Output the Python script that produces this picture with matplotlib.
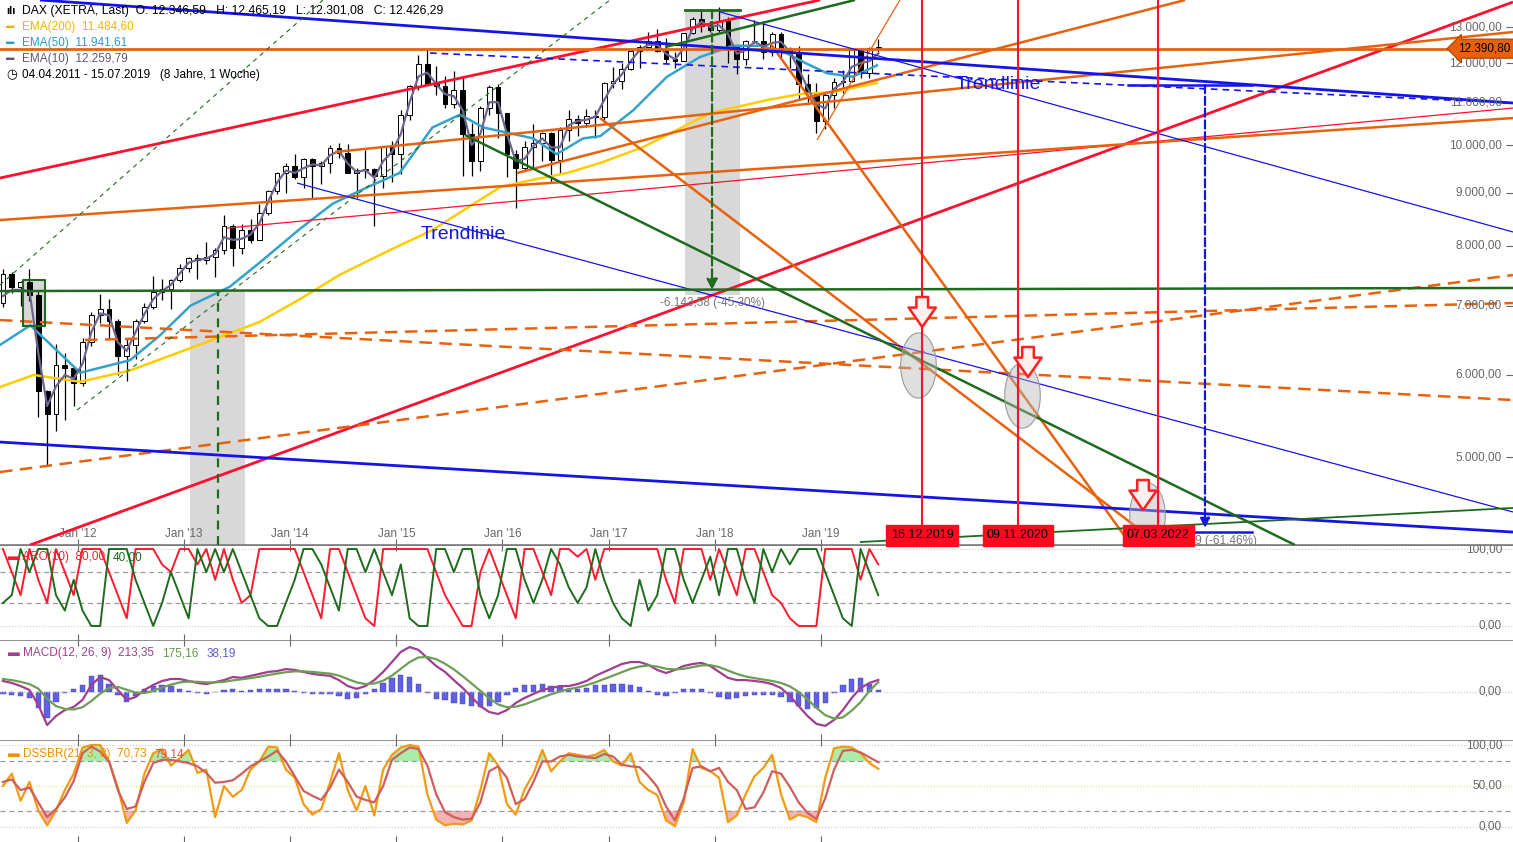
import numpy as np
import matplotlib.pyplot as plt
from matplotlib.path import Path
from matplotlib.ticker import NullLocator

plt.rcParams['font.family'] = ['Liberation Sans', 'DejaVu Sans']

# ---- monthly DAX candles (Apr 2011 - Jul 2019) ----
first_open = 7041
closes = [7514, 7294, 7376, 7159, 5785, 5502, 6141, 6089, 5898,
          6458, 6856, 6947, 6761, 6264, 6416, 6772, 6971, 7216, 7260, 7405, 7612,
          7776, 7742, 7795, 7914, 8349, 7959, 8276, 8104, 8594, 9033, 9406, 9552,
          9306, 9692, 9556, 9603, 9943, 9833, 9407, 9470, 9474, 9327, 9963, 9806,
          10694, 11402, 11966, 11454, 11414, 10945, 11309, 10259, 9660, 10850, 11382, 10743,
          9798, 9495, 9966, 10039, 10263, 9680, 10337, 10593, 10511, 10665, 10640, 11481,
          11535, 11834, 12313, 12438, 12615, 12325, 12118, 12056, 12829, 13230, 13024, 12918,
          13189, 12436, 12097, 12612, 12605, 12306, 12806, 12364, 12247, 11448, 11257, 10559,
          11173, 11516, 11526, 12344, 11727, 12399, 12426]
highs = [7600, 7550, 7400, 7600, 7250, 5800, 6430, 6300, 6100,
         6520, 6900, 7190, 7100, 6800, 6500, 6800, 7040, 7480, 7430, 7420, 7680,
         7800, 7850, 8060, 7950, 8560, 8400, 8400, 8480, 8770, 9060, 9410, 9600,
         9800, 9720, 9720, 9650, 10000, 10050, 10030, 9500, 9890, 9500, 9990, 10090,
         10800, 11420, 12220, 12390, 11920, 11650, 11800, 11670, 10500, 10900, 11430, 11450,
         10750, 9900, 10100, 10480, 10300, 10300, 10400, 10800, 10700, 10830, 10800, 11500,
         11890, 12000, 12320, 12480, 12850, 12950, 12700, 12300, 12830, 13300, 13530, 13190,
         13600, 13280, 12500, 12630, 13200, 13170, 12870, 12860, 12430, 12460, 11700, 11480,
         11260, 11600, 11820, 12400, 12420, 12440, 12660]
lows = [6980, 7200, 6990, 7070, 5460, 4900, 5300, 5430, 5600,
        5860, 6400, 6740, 6500, 6000, 5915, 6220, 6730, 6950, 7080, 6950, 7380,
        7540, 7420, 7680, 7460, 7850, 7650, 7850, 8050, 8100, 8570, 8980, 9000,
        9280, 9100, 8900, 9170, 9400, 9720, 9400, 8900, 9300, 8350, 9100, 9220,
        9380, 10580, 11300, 11430, 11180, 10860, 10850, 9330, 9340, 9450, 10700, 10150,
        9310, 8700, 9450, 9480, 9650, 9210, 9380, 10100, 10200, 10400, 10170, 10510,
        11360, 11330, 11820, 11860, 12400, 12300, 12010, 11870, 12050, 12800, 12850, 12860,
        12870, 12000, 11720, 11950, 12550, 12100, 12200, 12110, 11870, 11050, 11000, 10280,
        10370, 10860, 11230, 11500, 11620, 11620, 12300]
ema10 = [7150, 7250, 7250, 7230, 6300, 5600, 5850, 6000, 5950,
         6150, 6600, 6880, 6850, 6450, 6330, 6600, 6870, 7100, 7230, 7330, 7520,
         7700, 7750, 7770, 7850, 8150, 8100, 8120, 8200, 8400, 8820, 9200, 9450,
         9400, 9500, 9580, 9560, 9780, 9870, 9600, 9420, 9460, 9300, 9650, 9850,
         10250, 11000, 11650, 11750, 11450, 11200, 11150, 10800, 10000, 10250, 11000, 11000,
         10250, 9650, 9700, 9980, 10150, 9950, 9950, 10450, 10550, 10580, 10650, 11050,
         11450, 11700, 12050, 12350, 12500, 12500, 12250, 12100, 12400, 12950, 13150, 13000,
         13050, 12800, 12250, 12350, 12580, 12450, 12550, 12580, 12300, 11850, 11350, 10950,
         10850, 11330, 11500, 11900, 12000, 12050, 12260]

# slower averages read at irregular dates
ema50_t = [2011.26, 2011.55, 2012.02, 2012.49, 2012.77, 2013.06, 2013.43, 2013.71, 2014.09, 2014.40,
           2014.72, 2015.03, 2015.34, 2015.60, 2015.82, 2016.29, 2016.51, 2016.76, 2016.92, 2017.23,
           2017.55, 2017.86, 2018.17, 2018.43, 2018.68, 2018.87, 2019.06, 2019.30, 2019.53]
ema50_v = [6410, 6700, 6030, 6200, 6550, 7000, 7300, 7700, 8300, 8780,
           9100, 9400, 10400, 10700, 10400, 10150, 9800, 10150, 10200, 10800,
           11640, 12160, 12470, 12470, 12260, 11980, 11730, 11640, 11940]
ema200_t = [2011.26, 2011.58, 2012.02, 2012.49, 2013.15, 2013.71, 2014.09, 2014.47, 2014.94, 2015.34,
            2015.67, 2015.98, 2016.29, 2016.61, 2016.92, 2017.32, 2017.96, 2018.49, 2018.80, 2019.12, 2019.53]
ema200_v = [5840, 6000, 5910, 6060, 6420, 6750, 7100, 7500, 7920, 8280,
            8700, 9110, 9260, 9400, 9610, 9950, 10740, 11050, 11200, 11250, 11480]

# ---- indicators, monthly ----
aroon_up = [100, 70, 40, 100, 60, 30, 100, 70, 40,
            100, 100, 100, 70, 40, 10, 100, 100, 100, 80, 70, 100,
            100, 80, 100, 60, 100, 60, 30, 40, 100, 100, 100, 100,
            100, 70, 40, 10, 100, 100, 70, 40, 10, 0, 100, 100,
            100, 100, 100, 100, 70, 40, 20, 0, 0, 70, 100, 70,
            40, 10, 100, 100, 70, 40, 100, 100, 90, 100, 60, 100,
            100, 100, 100, 100, 100, 100, 60, 30, 100, 100, 100, 60,
            100, 70, 40, 100, 100, 70, 40, 30, 10, 0, 0, 0,
            100, 100, 100, 100, 60, 100, 80]
aroon_down = [30, 40, 100, 70, 100, 100, 40, 20, 60,
              20, 0, 0, 100, 100, 100, 60, 30, 0, 30, 70, 40,
              10, 100, 70, 100, 70, 100, 70, 40, 10, 0, 0, 30,
              60, 100, 100, 80, 50, 20, 100, 100, 70, 100, 70, 40,
              80, 10, 0, 0, 100, 100, 70, 100, 100, 40, 10, 40,
              100, 100, 60, 30, 60, 100, 80, 50, 30, 50, 100, 60,
              30, 10, 0, 60, 20, 40, 100, 100, 60, 30, 60, 90,
              40, 100, 100, 60, 30, 100, 70, 100, 80, 100, 100, 100,
              70, 40, 10, 0, 100, 70, 40]
macd = [195, 160, 105, 35, -230, -585, -425, -320, -265,
        -140, 125, 265, 210, 35, -140, -90, 35, 125, 195, 230, 230,
        195, 160, 140, 175, 210, 265, 250, 285, 320, 355, 370, 405,
        390, 355, 320, 300, 285, 210, 105, 55, 105, 210, 355, 530,
        710, 795, 745, 600, 460, 355, 210, 70, -90, -250, -355, -390,
        -320, -195, -105, -35, 35, 70, 105, 105, 140, 195, 285, 355,
        425, 495, 530, 530, 480, 390, 335, 390, 460, 495, 515, 460,
        355, 250, 210, 210, 195, 175, 140, 70, -70, -250, -425, -565,
        -600, -495, -320, -105, 70, 160, 213]
macd_signal = [230, 210, 180, 140, 60, -120, -250, -300, -310,
               -270, -160, -30, 70, 90, 40, -10, -20, 20, 80, 130, 170,
               185, 180, 170, 170, 180, 205, 225, 245, 270, 300, 325, 350,
               365, 365, 355, 340, 325, 290, 230, 170, 140, 150, 200, 290,
               410, 530, 610, 620, 580, 500, 400, 280, 150, 20, -110, -220,
               -270, -260, -220, -160, -100, -40, 10, 50, 80, 120, 170, 230,
               290, 350, 410, 450, 470, 450, 410, 400, 410, 440, 470, 475,
               440, 380, 320, 275, 245, 220, 195, 160, 100, 0, -130, -280,
               -410, -470, -450, -330, -180, 20, 175]
dss = [50, 65, 32, 55, 20, 2, 20, 45, 65,
       97, 100, 100, 80, 48, 5, 20, 65, 90, 95, 75, 84,
       94, 66, 70, 12, 50, 37, 45, 70, 80, 98, 97, 70,
       60, 28, 15, 22, 54, 90, 45, 20, 50, 14, 70, 88,
       97, 100, 98, 40, 9, 2, 4, 3, 8, 45, 90, 75,
       28, 15, 46, 65, 94, 68, 80, 90, 88, 86, 88, 94,
       80, 75, 90, 55, 45, 39, 8, 1, 30, 95, 72, 68,
       60, 6, 14, 40, 62, 72, 88, 40, 9, 15, 12, 6,
       60, 96, 98, 97, 90, 78, 71]
dss_signal = [55, 58, 45, 48, 30, 12, 22, 36, 56,
              90, 98, 92, 80, 45, 22, 25, 55, 78, 82, 82, 80,
              78, 74, 66, 54, 55, 57, 65, 74, 80, 86, 93, 80,
              62, 44, 38, 33, 48, 70, 55, 37, 33, 30, 50, 82,
              90, 97, 95, 75, 40, 18, 12, 9, 10, 30, 68, 74,
              60, 28, 34, 55, 80, 80, 86, 88, 86, 85, 84, 89,
              86, 76, 74, 73, 62, 49, 25, 8, 35, 72, 74, 68,
              72, 55, 45, 22, 24, 42, 68, 65, 49, 30, 17, 10,
              35, 70, 93, 94, 91, 85, 79]

# ---- drawn trendlines: (start year, start value, end year, end value) ----
red_upper = (2011.264, 9295, 2018.993, 13805)
red_long = (2011.547, 4112, 2025.524, 13743)
red_thin = (2013.404, 8317, 2025.524, 10858)
orange_base = (2011.264, 8466, 2025.524, 10620)
orange_mid = (2014.421, 9848, 2025.524, 12857)
orange_steep = (2016.137, 9398, 2022.433, 13805)
orange_fall1 = (2016.919, 10620, 2022.197, 4112)
orange_fall2 = (2018.521, 12547, 2021.924, 4112)
orange_thin = (2018.964, 10113, 2019.746, 13805)
orange_dash1 = (2011.264, 6779, 2025.524, 5675)
orange_dash2 = (2011.264, 4836, 2025.524, 7492)
orange_dash3 = (2012.065, 6485, 2025.524, 7040)
blue_upper = (2011.641, 13805, 2025.524, 10980)
blue_lower = (2011.264, 5169, 2025.524, 4232)
blue_trend = (2014.063, 9192, 2025.524, 4425)
blue_top = (2018.05, 13442, 2025.524, 8244)
blue_dash = (2015.317, 12271, 2025.524, 10980)
green_flat = (2011.264, 7230, 2025.524, 7280)
green_fall = (2015.647, 10227, 2023.469, 4112)
green_rise = (2017.532, 12435, 2019.322, 13805)
green_low = (2019.37, 4139, 2025.524, 4465)
green_dash1 = (2011.264, 7328, 2014.308, 13805)
green_dash2 = (2011.99, 5550, 2017.013, 13805)
resistance = 12390.80

# measurement boxes and markers
meas1_t = (2017.72, 2018.238); meas1_v = (7166, 13500); meas1_x = 2017.975; meas1_end = 7246
meas2_t = (2013.055, 2013.573); meas2_v = (4112, 7246); meas2_x = 2013.319
box_t = (2011.481, 2011.688); box_v = (6690, 7409)
meas3_x = 2022.621; meas3_v = (11429, 4270); meas3_t = (2021.9, 2023.06); meas3_low = 4232
signal_dates = [2019.956, 2020.858, 2022.18]
signal_labels = ['16.12.2019', '09.11.2020', '07.03.2022']
arrow_t = [2019.956, 2020.953, 2022.037]
arrow_top = [7135, 6385, 4751]
arrow_tip = [6675, 5972, 4444]
circle_t = [2019.916, 2020.896, 2022.075]
circle_v = [6134, 5738, 4395]
year_ticks = [2012, 2013, 2014, 2015, 2016, 2017, 2018, 2019]
year_labels = ["Jan '12", "Jan '13", "Jan '14", "Jan '15", "Jan '16", "Jan '17", "Jan '18", "Jan '19"]
price_ticks = [5000, 6000, 7000, 8000, 9000, 10000, 11000, 12000, 13000]

RED = '#FF1030'; ORANGE = '#E8620E'; BLUE = '#1414E6'; GREEN = '#1E6B1E'; GRAY = '#666666'


def de(v):
    return f'{v:,.2f}'.replace(',', ' ').replace('.', ',').replace(' ', '.')


def seg(ax, line, **kw):
    ax.plot([line[0], line[2]], [line[1], line[3]], solid_capstyle='butt', **kw)


def legend_row(ax, y, parts):
    # chain coloured legend pieces one after the other
    prev = ax.text(0.005, y, parts[0][0], transform=ax.transAxes, color=parts[0][1],
                   fontsize=8.5, va='center', zorder=10)
    for txt, col in parts[1:]:
        prev = ax.annotate(txt, xy=(1, 0.5), xycoords=prev, xytext=(6, 0), textcoords='offset points',
                           color=col, fontsize=8.5, va='center', zorder=10)


fig = plt.figure(figsize=(15.13, 8.42), dpi=100)
ax = fig.add_axes([0, 297 / 842, 1, 545 / 842])
ax_aro = fig.add_axes([0, 202 / 842, 1, 95 / 842])
ax_macd = fig.add_axes([0, 102 / 842, 1, 100 / 842])
ax_dss = fig.add_axes([0, 0, 1, 102 / 842])
for z, a in zip([4, 3, 2, 1], [ax, ax_aro, ax_macd, ax_dss]):
    a.set_zorder(z)
    a.set_xlim(2011.264, 2025.524)
    for s in a.spines.values():
        s.set_visible(False)

months = 2011 + (np.arange(len(closes)) + 3.5) / 12
closes = np.array(closes); opens = np.r_[first_open, closes[:-1]]

# ---- main panel ----
ax.set_yscale('log')
ax.set_ylim(4112, 13805)
ax.fill_between(meas1_t, meas1_v[0], meas1_v[1], color='#D4D4D4', alpha=0.9, lw=0, zorder=1)
ax.fill_between(meas2_t, meas2_v[0], meas2_v[1], color='#D4D4D4', alpha=0.9, lw=0, zorder=1)
ax.fill_between(box_t, box_v[0], box_v[1], color='#D4D4D4', alpha=0.9, lw=0, zorder=1)
ax.plot([box_t[0], box_t[1], box_t[1], box_t[0], box_t[0]],
        [box_v[0], box_v[0], box_v[1], box_v[1], box_v[0]], color=GREEN, lw=1.5, zorder=6)

ax.vlines(months, lows, highs, color='black', lw=0.9, zorder=3)
up = closes >= opens
ax.bar(months, np.abs(closes - opens), bottom=np.minimum(opens, closes), width=0.045,
       color=np.where(up, 'white', 'black'), edgecolor='black', lw=0.7, zorder=3.1)

ax.plot(ema200_t, ema200_v, color='#FFCC00', lw=1.8, zorder=4)
ax.plot(ema50_t, ema50_v, color='#33A3CC', lw=1.8, zorder=4)
ax.plot(months, ema10, color='#6E6590', lw=1.6, zorder=4)

for ln in [red_upper, red_long]:
    seg(ax, ln, color=RED, lw=2, zorder=5)
seg(ax, red_thin, color=RED, lw=0.9, zorder=5)
for ln in [orange_base, orange_mid, orange_steep, orange_fall1, orange_fall2]:
    seg(ax, ln, color=ORANGE, lw=1.8, zorder=5)
seg(ax, orange_thin, color=ORANGE, lw=0.9, zorder=5)
ax.axhline(resistance, color=ORANGE, lw=2, zorder=5)
for ln in [orange_dash1, orange_dash2, orange_dash3]:
    seg(ax, ln, color=ORANGE, lw=1.8, dashes=(5, 3), zorder=5)
for ln in [blue_upper, blue_lower]:
    seg(ax, ln, color=BLUE, lw=2, zorder=5)
for ln in [blue_trend, blue_top]:
    seg(ax, ln, color=BLUE, lw=0.9, zorder=5)
seg(ax, blue_dash, color=BLUE, lw=1.2, dashes=(4, 3), zorder=5)
for ln in [green_flat, green_fall, green_rise]:
    seg(ax, ln, color=GREEN, lw=1.8, zorder=5)
seg(ax, green_low, color=GREEN, lw=1.3, zorder=5)
for ln in [green_dash1, green_dash2]:
    seg(ax, ln, color=GREEN, lw=0.8, dashes=(4, 4), zorder=5)

# measurements
ax.plot(meas1_t, [meas1_v[1]] * 2, color=GREEN, lw=2, zorder=6)
ax.annotate('', xy=(meas1_x, meas1_end), xytext=(meas1_x, meas1_v[1]), zorder=6,
            arrowprops=dict(arrowstyle='-|>', linestyle='--', color=GREEN, lw=1.6,
                            mutation_scale=16, shrinkA=0, shrinkB=0))
ax.text(meas1_x, 7040, '-6.143,58 (-45,30%)', ha='center', va='center', fontsize=8.5, color='#777777', zorder=6)
ax.plot([meas2_x, meas2_x], meas2_v, color=GREEN, lw=1.6, dashes=(4, 3), zorder=6)
ax.plot(meas3_t, [meas3_v[0]] * 2, color=BLUE, lw=1.8, zorder=6)
ax.plot([2022.498, 2023.06], [meas3_low] * 2, color=BLUE, lw=1.8, zorder=6)
ax.annotate('', xy=(meas3_x, meas3_v[1]), xytext=(meas3_x, meas3_v[0]), zorder=6,
            arrowprops=dict(arrowstyle='-|>', linestyle='--', color=BLUE, lw=1.6,
                            mutation_scale=14, shrinkA=0, shrinkB=0))
ax.text(meas3_x, 4150, '-7.024,39 (-61,46%)', ha='center', va='center', fontsize=8.5,
        color='#777777', zorder=6, clip_on=True)

# signal dates
theta = np.linspace(0, 2 * np.pi, 60)
oval = Path(np.c_[0.545 * np.cos(theta), np.sin(theta)])
ax.plot(circle_t, circle_v, ls='none', marker=oval, ms=47, mfc=(0.72, 0.72, 0.72, 0.45),
        mec='#9A9A9A', mew=0.8, zorder=6)
for t in signal_dates:
    ax.axvline(t, ymin=0.03, color=RED, lw=1.5, zorder=6)
for t, a, b in zip(arrow_t, arrow_top, arrow_tip):
    ax.annotate('', xy=(t, b), xytext=(t, a), zorder=7,
                arrowprops=dict(arrowstyle='simple,head_width=1.4,head_length=1.0,tail_width=0.6',
                                mutation_scale=14, fc='#FFF0F0', ec='#FF2020', lw=1.8,
                                shrinkA=0, shrinkB=0))
for t, lab in zip(signal_dates, signal_labels):
    ax.text(t, 0.018, lab, transform=ax.get_xaxis_transform(), ha='center', va='center',
            fontsize=9, color='black', zorder=8,
            bbox=dict(boxstyle='square,pad=0.35', fc='#FF0A1E', ec='#FF0A1E'))

ax.text(2015.628, 8207, 'Trendlinie', color=BLUE, fontsize=14, ha='center', va='center', zorder=7)
ax.text(2020.67, 11429, 'Trendlinie', color=BLUE, fontsize=14, ha='center', va='center', zorder=7)

# axes decoration
ax.set_yticks(price_ticks)
ax.yaxis.set_minor_locator(NullLocator())
ax.tick_params(axis='y', which='both', left=False, right=True, labelleft=False, labelright=False,
               direction='in', length=5, color=GRAY)
for v in price_ticks:
    ax.text(0.9927, v, de(v), transform=ax.get_yaxis_transform(), ha='right', va='center',
            fontsize=8.5, color=GRAY, zorder=7)
ax.text(0.998, resistance, de(resistance), transform=ax.get_yaxis_transform(), ha='right', va='center',
        fontsize=8.5, color='black', zorder=9,
        bbox=dict(boxstyle='larrow,pad=0.3', fc='#E8600C', ec='#A84000', lw=0.8))
ax.set_xticks(year_ticks)
ax.set_xticklabels(year_labels)
ax.tick_params(axis='x', direction='in', pad=-12, length=4, labelsize=8.5, labelcolor=GRAY, color=GRAY)
ax.spines['bottom'].set_visible(True)
ax.spines['bottom'].set_color('#7A7A7A')
ax.spines['bottom'].set_linewidth(1.2)

# legend text (top left)
def fy(py):
    return 1 - py / 842


fig.text(22 / 1513, fy(11), 'DAX (XETRA, Last)  O: 12.346,59   H: 12.465,19   L: 12.301,08   C: 12.426,29',
         fontsize=8.7, va='center', zorder=20)
fig.text(6 / 1513, fy(11), 'ılı', fontsize=8, va='center', fontweight='bold', zorder=20)
for py, name, val, col in [(27, 'EMA(200)', '11.484,60', '#F2B600'),
                           (43, 'EMA(50)', '11.941,61', '#2A9BC8'),
                           (59, 'EMA(10)', '12.259,79', '#5E557E')]:
    fig.text(6 / 1513, fy(py), '▬', fontsize=6, color=col, va='center', zorder=20)
    fig.text(22 / 1513, fy(py), f'{name}  {val}', fontsize=8.5, color=col, va='center', zorder=20)
fig.text(6 / 1513, fy(75), '◷', fontsize=9, va='center', zorder=20)
fig.text(22 / 1513, fy(75), '04.04.2011 - 15.07.2019   (8 Jahre, 1 Woche)', fontsize=8.5, va='center', zorder=20)

# ---- sub panels ----
for a in [ax_aro, ax_macd, ax_dss]:
    a.spines['top'].set_visible(True)
    a.spines['top'].set_color('#7A7A7A')
    a.spines['top'].set_linewidth(1.2)
    a.set_xticks(year_ticks)
    a.set_yticks([])
    a.tick_params(axis='x', direction='in', top=True, bottom=True, labelbottom=False,
                  length=4, color=GRAY)

# Aroon
ax_aro.set_ylim(-18.2, 105.2)
for v in [70, 30]:
    ax_aro.axhline(v, color='#999999', lw=0.9, dashes=(4, 3))
for v in [100, 0]:
    ax_aro.axhline(v, color='#C8C8C8', lw=0.8, ls=':')
ax_aro.plot(months, aroon_up, color='#FF1A2E', lw=1.4)
ax_aro.plot(months, aroon_down, color=GREEN, lw=1.4)
for v in [100, 0]:
    ax_aro.text(0.9927, v, de(v), transform=ax_aro.get_yaxis_transform(), ha='right', va='center',
                fontsize=8.5, color=GRAY)
legend_row(ax_aro, 0.87, [('▬ ARO(10)  80,00', '#FF1A2E'), ('40,00', GREEN)])

# MACD
ax_macd.set_ylim(-850, 920)
ax_macd.axhline(0, color='#C8C8C8', lw=0.8, ls=':')
macd = np.array(macd); macd_signal = np.array(macd_signal)
ax_macd.bar(months, macd - macd_signal, width=0.05, color='#6060E0', edgecolor='#4040C0', lw=0.3)
ax_macd.plot(months, macd, color='#A03E90', lw=1.6)
ax_macd.plot(months, macd_signal, color='#6E9E55', lw=1.6)
ax_macd.text(0.9927, 0, '0,00', transform=ax_macd.get_yaxis_transform(), ha='right', va='center',
             fontsize=8.5, color=GRAY)
legend_row(ax_macd, 0.87, [('▬ MACD(12, 26, 9)  213,35', '#A03E90'), ('175,16', '#5E9A45'),
                           ('38,19', '#5B5BD6')])

# DSSBR
ax_dss.set_ylim(-18.3, 106.1)
for v in [80, 20]:
    ax_dss.axhline(v, color='#999999', lw=0.9, dashes=(4, 3))
for v in [100, 0]:
    ax_dss.axhline(v, color='#C8C8C8', lw=0.8, ls=':')
ax_dss.axhline(50, color='#E6E070', lw=0.8, ls=':')
dss = np.array(dss, dtype=float)
ax_dss.fill_between(months, dss, 80, where=dss > 80, interpolate=True, color='#8EE88E', alpha=0.75, lw=0)
ax_dss.fill_between(months, dss, 20, where=dss < 20, interpolate=True, color='#F09A9A', alpha=0.75, lw=0)
ax_dss.plot(months, dss, color='#F39A10', lw=1.6)
ax_dss.plot(months, dss_signal, color='#CF5E5E', lw=1.6)
for v in [100, 50, 0]:
    ax_dss.text(0.9927, v, de(v), transform=ax_dss.get_yaxis_transform(), ha='right', va='center',
                fontsize=8.5, color=GRAY)
legend_row(ax_dss, 0.86, [('▬ DSSBR(21, 3, 8)  70,73', '#F0900A'), ('79,14', '#D05050')])

fig.savefig('out.png', dpi=100)
